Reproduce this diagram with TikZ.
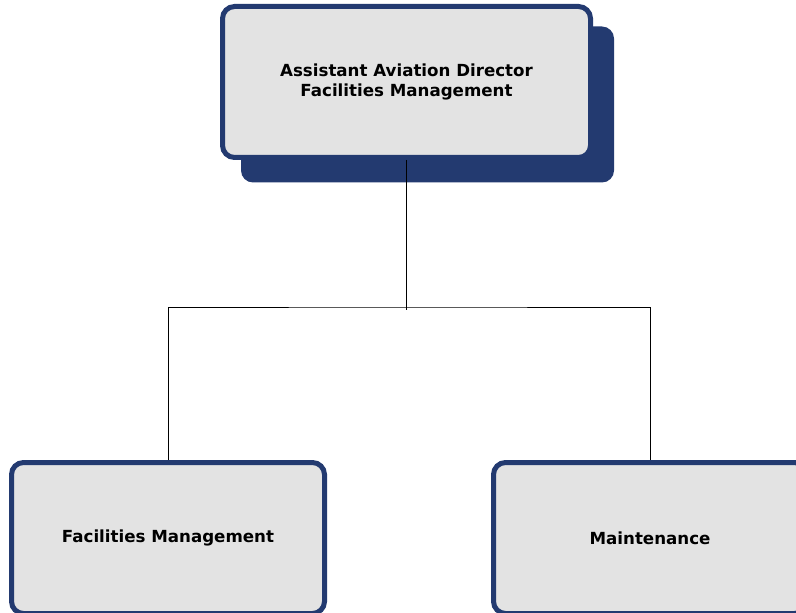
\documentclass[tikz,border=0pt]{standalone}
\usepackage{fontspec}
\setmainfont{DejaVu Sans}
\definecolor{navy}{HTML}{233A70}
\definecolor{boxgray}{HTML}{E3E3E3}
\begin{document}
\begin{tikzpicture}[x=0.75pt,y=-0.75pt,
  orgbox/.style={draw=navy, fill=boxgray, line width=3.75pt, rounded corners=9pt,
    minimum width=234.75pt, minimum height=113.25pt, align=center, inner sep=0pt,
    font=\fontsize{12.5pt}{15pt}\selectfont\bfseries},
  shadowbox/.style={fill=navy, rounded corners=9pt, minimum width=279.75pt, minimum height=117pt, inner sep=0pt},
  link/.style={draw=black, line width=0.75pt}]
\clip (0,0) rectangle (796,613);
\useasboundingbox (0,0) rectangle (796,613);
\node[shadowbox] (shadow) at (427.5,104.5) {};
\node[orgbox, minimum width=276pt] (top) at (406.5,82)
  {Assistant Aviation Director\\Facilities Management};
\node[orgbox] (left) at (168,538) {Facilities Management};
\node[orgbox] (right) at (650,538) {Maintenance};
\coordinate (junction) at (406.5,307);
\coordinate (stem) at (406.5,310);
\draw[link] (top.south) -- (stem);
\draw[link] (left.north) |- (junction) -| (right.north);
\end{tikzpicture}
\end{document}
